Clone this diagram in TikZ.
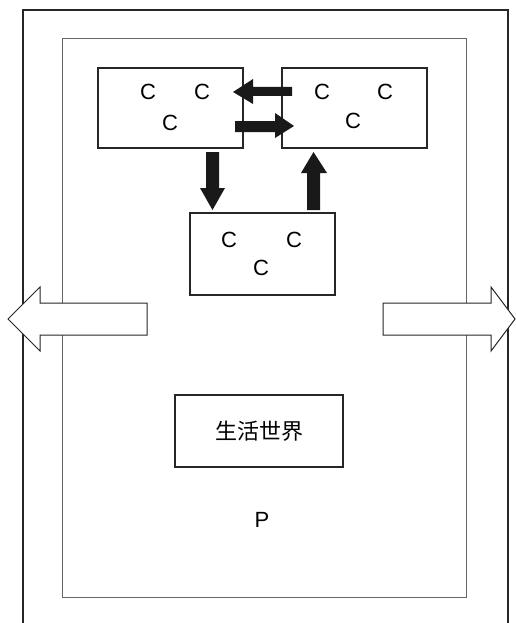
\documentclass[tikz,border=0pt]{standalone}
\usepackage{fontspec}
\setmainfont{Liberation Sans}
\newfontfamily\cjk{Noto Sans CJK SC}
\begin{document}
\begin{tikzpicture}[x=1pt,y=-1pt,
  frame/.style={draw=black!85,line width=1.3pt},
  innerframe/.style={draw=black!60,line width=0.9pt},
  cbox/.style={draw=black!85,line width=1.2pt,fill=white},
  lbl/.style={font=\fontsize{22}{22}\selectfont,inner sep=0pt},
  solidarrow/.style={fill=black!90,draw=none},
  hollow/.style={draw=black!85,line width=1pt,fill=white,line join=miter}]
\useasboundingbox (0,0) rectangle (516,623);
% outer frame (open at bottom)
\draw[frame] (23,623) -- (23,10) -- (508,10) -- (508,623);
% inner frame
\draw[innerframe] (62,38) rectangle (466,597);
% boxes
\node[cbox,minimum width=145pt,minimum height=80pt,inner sep=0pt] (b1) at (170.5,108) {};
\node[cbox,minimum width=145pt,minimum height=80pt,inner sep=0pt] (b2) at (354.5,108) {};
\node[cbox,minimum width=145pt,minimum height=82pt,inner sep=0pt] (b3) at (262.5,254) {};
\node[lbl] (c11) at (148,92) {C};
\node[lbl] (c12) at (202,92) {C};
\node[lbl] (c13) at (170,123) {C};
\node[lbl] (c21) at (322,92) {C};
\node[lbl] (c22) at (385,92) {C};
\node[lbl] (c23) at (353,121) {C};
\node[lbl] (c31) at (229,240) {C};
\node[lbl] (c32) at (294,240) {C};
\node[lbl] (c33) at (261,268) {C};
% solid arrows
\fill[solidarrow] (292,87) -- (253,87) -- (253,79) -- (233,92) -- (253,104) -- (253,96) -- (292,96) -- cycle;
\fill[solidarrow] (235,121) -- (275,121) -- (275,113) -- (294,126) -- (275,138) -- (275,132) -- (235,132) -- cycle;
\fill[solidarrow] (206,152) -- (219,152) -- (219,188) -- (225,188) -- (212.5,210) -- (200,188) -- (206,188) -- cycle;
\fill[solidarrow] (307,210) -- (320,210) -- (320,173) -- (327,173) -- (313.5,152) -- (301,173) -- (307,173) -- cycle;
% hollow big arrows
\draw[hollow] (147,303) -- (40,303) -- (40,287) -- (8,319) -- (40,351) -- (40,335) -- (147,335) -- cycle;
\draw[hollow] (383,303) -- (491,303) -- (491,287) -- (515,319) -- (491,351) -- (491,335) -- (383,335) -- cycle;
% life world box
\node[cbox,minimum width=168pt,minimum height=72pt,inner sep=0pt] (lw) at (259,431) {};
\node[font=\cjk\fontsize{22}{22}\selectfont,inner sep=0pt] (lwt) at (lw) {生活世界};
\node[lbl] (p) at (262,520) {P};
\end{tikzpicture}
\end{document}
